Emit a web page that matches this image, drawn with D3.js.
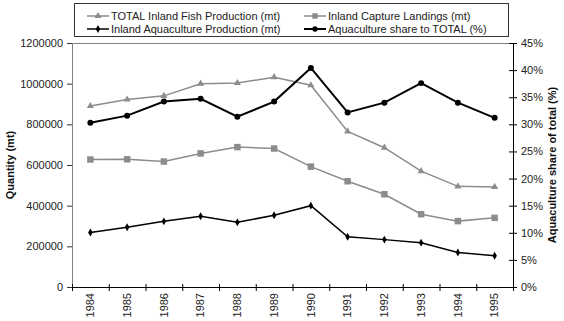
<!DOCTYPE html>
<html><head><meta charset="utf-8">
<script src="https://cdn.jsdelivr.net/npm/d3@7"></script>
<style>
body{margin:0;background:#fff;}
svg{display:block;font-family:"Liberation Sans",Arial,sans-serif;}
</style></head><body>
<svg id="c" width="564" height="321"></svg>
<script>
const years = ["1984","1985","1986","1987","1988","1989","1990","1991","1992","1993","1994","1995"];
const totalProd = [890000,922000,940000,1000000,1003000,1032000,992000,765000,685000,570000,495000,492000];
const capture = [627000,628000,617000,657000,688000,681000,592000,520000,456000,358000,324000,340000];
const aquaculture = [268000,294000,323000,348000,318000,353000,400000,247000,233000,218000,170000,154000];
const sharePct = [30.3,31.6,34.2,34.7,31.4,34.2,40.4,32.2,34.0,37.6,34.0,31.2];
const leftTicks = [0,200000,400000,600000,800000,1000000,1200000];
const rightTicks = [0,5,10,15,20,25,30,35,40,45];

const svg = d3.select("#c");
const m = {l:72, r:513, t:43, b:287};
const x = d3.scaleBand().domain(years).range([m.l, m.r]);
const y = d3.scaleLinear().domain([0,1200000]).range([m.b, m.t]);
const y2 = d3.scaleLinear().domain([0,45]).range([m.b, m.t]);
const cx = d => x(d) + x.bandwidth()/2;

// top border
svg.append("line").attr("x1",m.l).attr("x2",m.r).attr("y1",m.t+0.5).attr("y2",m.t+0.5).attr("stroke","#808080");

// left axis
const gl = svg.append("g").attr("transform",`translate(${m.l},0)`)
  .call(d3.axisLeft(y).tickValues(leftTicks).tickFormat(d3.format("d")).tickSize(5).tickSizeOuter(0));
gl.select(".domain").attr("stroke","#808080");
gl.selectAll(".tick line").attr("stroke","#333");
gl.selectAll("text").attr("font-size",11).attr("fill","#222").attr("dx",-1);

// right axis
const gr = svg.append("g").attr("transform",`translate(${m.r},0)`)
  .call(d3.axisRight(y2).tickValues(rightTicks).tickFormat(d => d + "%").tickSize(4).tickSizeOuter(0));
gr.select(".domain").attr("stroke","#000");
gr.selectAll(".tick line").attr("x1",-4).attr("stroke","#000");
gr.selectAll("text").attr("font-size",11).attr("fill","#222").attr("x",8);

// bottom axis
const gb = svg.append("g").attr("transform",`translate(0,${m.b})`)
  .call(d3.axisBottom(x).tickSize(0).tickSizeOuter(0));
gb.select(".domain").attr("stroke","#000");
gb.selectAll("text").attr("font-size",11).attr("fill","#222")
  .attr("transform","rotate(-90)").attr("text-anchor","end")
  .attr("x",-6).attr("y",0).attr("dy","0.35em");
const bounds = years.map(d => x(d)).concat([m.r]);
svg.append("g").selectAll("line").data(bounds).join("line")
  .attr("x1",d=>d+0.5).attr("x2",d=>d+0.5).attr("y1",m.b-3).attr("y2",m.b+4).attr("stroke","#000");

// axis titles
svg.append("text").attr("transform",`translate(14,${(m.t+m.b)/2}) rotate(-90)`)
  .attr("text-anchor","middle").attr("font-size",11).attr("font-weight","bold").attr("fill","#111").text("Quantity (mt)");
svg.append("text").attr("transform",`translate(556,${(m.t+m.b)/2}) rotate(-90)`)
  .attr("text-anchor","middle").attr("font-size",11).attr("font-weight","bold").attr("fill","#111").text("Aquaculture share of total (%)");

const lineL = d3.line().x((d,i)=>cx(years[i])).y(d=>y(d));
const lineR = d3.line().x((d,i)=>cx(years[i])).y(d=>y2(d));

function series(data, line, color, width, marker, size){
  svg.append("path").datum(data).attr("d",line).attr("fill","none").attr("stroke",color).attr("stroke-width",width);
  const pts = data.map((d,i)=>[cx(years[i]), line===lineL ? y(d) : y2(d)]);
  svg.append("g").selectAll("path").data(pts).join("path")
    .attr("transform",p=>`translate(${p[0]},${p[1]})`)
    .attr("d", d3.symbol().type(marker).size(size)).attr("fill",color);
}
series(totalProd, lineL, "#8c8c8c", 1.5, d3.symbolTriangle, 22);
series(capture, lineL, "#8c8c8c", 1.5, d3.symbolSquare, 42);
series(aquaculture, lineL, "#000", 1.5, d3.symbolDiamond, 18);
series(sharePct, lineR, "#000", 2, d3.symbolCircle, 28);

// legend
const lg = svg.append("g");
lg.append("rect").attr("x",74.5).attr("y",3.5).attr("width",434).attr("height",33).attr("fill","#fff").attr("stroke","#333");
const items = [
  {t:"TOTAL Inland Fish Production (mt)", c:"#8c8c8c", m:d3.symbolTriangle, s:22, w:1.5, x:87, y:16},
  {t:"Inland Capture Landings (mt)", c:"#8c8c8c", m:d3.symbolSquare, s:30, w:1.5, x:304, y:16},
  {t:"Inland Aquaculture Production (mt)", c:"#000", m:d3.symbolDiamond, s:18, w:1.5, x:87, y:29},
  {t:"Aquaculture share to TOTAL (%)", c:"#000", m:d3.symbolCircle, s:22, w:2, x:304, y:29}
];
items.forEach(it=>{
  lg.append("line").attr("x1",it.x).attr("x2",it.x+22).attr("y1",it.y).attr("y2",it.y).attr("stroke",it.c).attr("stroke-width",it.w);
  lg.append("path").attr("transform",`translate(${it.x+11},${it.y})`).attr("d",d3.symbol().type(it.m).size(it.s)).attr("fill",it.c);
  lg.append("text").attr("x",it.x+24).attr("y",it.y).attr("dy","0.35em").attr("font-size",11).attr("fill","#222").text(it.t);
});
</script>
</body></html>
